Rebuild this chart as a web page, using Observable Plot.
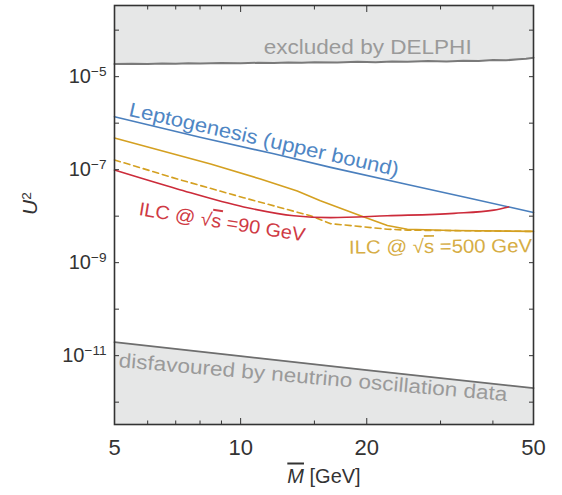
<!DOCTYPE html>
<html><head><meta charset="utf-8">
<script src="https://cdn.jsdelivr.net/npm/d3@7"></script>
<script src="https://cdn.jsdelivr.net/npm/@observablehq/plot@0.6"></script>
<style>
body{margin:0;background:#fff;}
</style>
</head><body><div id="chart"></div>
<script>
// ---- data (M in GeV, U^2) ----
const delphiM = [5, 5.5, 6, 6.5, 7, 7.5, 8, 9, 10, 11, 12, 13, 14, 15, 17, 19, 21, 23, 25, 28, 31, 34, 37, 40, 43, 46, 48, 50];
const delphiU = [1.87e-5, 1.90e-5, 1.86e-5, 1.91e-5, 1.89e-5, 1.94e-5, 1.92e-5, 1.96e-5, 1.94e-5, 1.99e-5, 1.97e-5, 2.02e-5, 1.99e-5, 2.04e-5, 2.02e-5, 2.08e-5, 2.05e-5, 2.12e-5, 2.09e-5, 2.16e-5, 2.13e-5, 2.21e-5, 2.18e-5, 2.27e-5, 2.25e-5, 2.36e-5, 2.42e-5, 2.55e-5];

const nuM = [5, 10, 20, 50];
const nuU = [1.95e-11, 9.8e-12, 4.9e-12, 2.0e-12];

const leptoM = [5, 8, 12, 16.4, 25, 35, 44, 50];
const leptoU = [1.38e-6, 5.0e-7, 2.19e-7, 1.12e-7, 4.8e-8, 2.45e-8, 1.55e-8, 1.2e-8];

const ilc500M = [5, 8.48, 11.15, 13.65, 15.5, 19.33, 22.4, 25, 32, 50];
const ilc500U = [4.8e-7, 1.32e-7, 6.3e-8, 3.47e-8, 2.14e-8, 1.02e-8, 6.3e-9, 5.25e-9, 4.9e-9, 4.7e-9];

const ilc500dM = [5, 7.06, 10.16, 14.68, 16.4, 22.4, 25, 50];
const ilc500dU = [1.62e-7, 6.3e-8, 2.5e-8, 1.02e-8, 6.9e-9, 5.25e-9, 5.0e-9, 4.7e-9];

const ilc90M = [5, 7.06, 10.17, 13.4, 16.4, 22.4, 32.3, 40.2, 43.6];
const ilc90U = [9.8e-8, 3.85e-8, 1.58e-8, 1.02e-8, 9.3e-9, 1.02e-8, 1.15e-8, 1.35e-8, 1.58e-8];

const xTicks = [5, 6, 7, 8, 9, 10, 15, 20, 30, 40, 50];
const xMajor = [5, 10, 20, 50];
const yTicks = [1e-12, 1e-11, 1e-10, 1e-9, 1e-8, 1e-7, 1e-6, 1e-5, 1e-4];
const yLabelTicks = [1e-11, 1e-9, 1e-7, 1e-5];

const labelText = ["excluded by DELPHI", "Leptogenesis (upper bound)", "ILC @ √s =90 GeV", "ILC @ √s =500 GeV", "disfavoured by neutrino oscillation data"];
const labelM = [20.1, 11.37, 9.03, 30.0, 14.89];
const labelU = [4.2e-5, 4.4e-7, 7.4e-9, 2.2e-9, 3.37e-12];

const xTitle = "M [GeV]";
const yTitle = "U2";

// ---- styles ----
const labelStyle = [
  {fill: "#9a9a9a", rotate: 0, size: 20, len: 208},
  {fill: "#4f86c4", rotate: 12.7, size: 20, len: 276},
  {fill: "#cf3a44", rotate: 9, size: 19, len: 168},
  {fill: "#d6ad45", rotate: -0.5, size: 19, len: 183},
  {fill: "#9a9a9a", rotate: 5, size: 20, len: 390}
];
const yDomain = [3.31e-13, 3.39e-4];
const xDomain = [5, 50];

const zip = (M, U) => M.map((m, i) => ({M: m, U: U[i]}));
const delphi = zip(delphiM, delphiU);
const nu = zip(nuM, nuU);
const lepto = zip(leptoM, leptoU);
const ilc500 = zip(ilc500M, ilc500U);
const ilc500d = zip(ilc500dM, ilc500dU);
const ilc90 = zip(ilc90M, ilc90U);

const labelMarks = labelText.map((t, i) => Plot.text([{t, M: labelM[i], U: labelU[i]}], {
  x: "M", y: "U", text: "t", fill: labelStyle[i].fill, rotate: labelStyle[i].rotate,
  fontSize: labelStyle[i].size
}));

const plot = Plot.plot({
  width: 562, height: 495,
  marginLeft: 114, marginRight: 29, marginTop: 5, marginBottom: 71,
  style: {fontFamily: "'Liberation Sans', Arial, Helvetica, sans-serif", fontSize: "20px", background: "#fff", color: "#333"},
  x: {type: "log", domain: xDomain, axis: null},
  y: {type: "log", domain: yDomain, axis: null},
  marks: [
    Plot.areaY(delphi, {x: "M", y1: "U", y2: yDomain[1], fill: "#e6e7e7"}),
    Plot.areaY(nu, {x: "M", y1: yDomain[0], y2: "U", fill: "#e6e7e7"}),
    Plot.line(delphi, {x: "M", y: "U", stroke: "#7a7a7a", strokeWidth: 2}),
    Plot.line(nu, {x: "M", y: "U", stroke: "#6e6e6e", strokeWidth: 1.8}),
    Plot.line(lepto, {x: "M", y: "U", stroke: "#4a7fbd", strokeWidth: 1.6}),
    Plot.line(ilc500d, {x: "M", y: "U", stroke: "#d4a021", strokeWidth: 1.6, strokeDasharray: "6,4"}),
    Plot.line(ilc500, {x: "M", y: "U", stroke: "#d4a021", strokeWidth: 1.6}),
    Plot.line(ilc90, {x: "M", y: "U", stroke: "#cc2b3a", strokeWidth: 1.6, curve: "monotone-x"}),
    ...labelMarks,
    Plot.frame({stroke: "#333", strokeWidth: 1.6}),
    // inward ticks
    Plot.axisX(xMajor, {anchor: "bottom", tickSize: -6, tickFormat: () => "", label: null, stroke: "#333"}),
    Plot.axisX(xTicks.filter(d => !xMajor.includes(d)), {anchor: "bottom", tickSize: -3.5, tickFormat: () => "", label: null, stroke: "#333"}),
    Plot.axisX(xMajor, {anchor: "top", tickSize: -6, tickFormat: () => "", label: null, stroke: "#333"}),
    Plot.axisX(xTicks.filter(d => !xMajor.includes(d)), {anchor: "top", tickSize: -3.5, tickFormat: () => "", label: null, stroke: "#333"}),
    Plot.axisY(yTicks, {anchor: "left", tickSize: -5, tickFormat: () => "", label: null, stroke: "#333"}),
    Plot.axisY(yTicks, {anchor: "right", tickSize: -5, tickFormat: () => "", label: null, stroke: "#333"}),
    // tick labels
    Plot.axisX(xMajor, {anchor: "bottom", tickSize: 0, tickPadding: 15, tickFormat: d => String(d), label: null, fontSize: 22, fill: "#333"}),
    Plot.axisY(yLabelTicks, {anchor: "left", tickSize: 0, tickPadding: 8, tickFormat: d => "10^" + "\u2212" + Math.round(-Math.log10(d)), label: null, fontSize: 20, fill: "#333"}),
    Plot.text([xTitle], {frameAnchor: "bottom", dy: 58, fontSize: 20, fill: "#333"}),
    Plot.text([yTitle], {frameAnchor: "left", dx: -84, rotate: -90, fontSize: 21, fill: "#333"})
  ]
});

document.getElementById("chart").appendChild(plot);
const svg = d3.select(plot);

svg.selectAll("text").each(function() {
  const t = this.textContent;
  const sel = d3.select(this);
  if (/^10\^/.test(t)) {
    const e = t.split("^")[1];
    sel.text("10");
    sel.append("tspan").attr("dy", "-0.5em").attr("font-size", "0.68em").text(e);
    return;
  }
  const i = labelText.indexOf(t);
  if (i >= 0) {
    if (t.includes("√s")) {
      const [a, b] = t.split("√s");
      sel.text(a + "√");
      sel.append("tspan").style("text-decoration", "overline").text("s");
      sel.append("tspan").text(b);
    }
    sel.attr("textLength", labelStyle[i].len).attr("lengthAdjust", "spacingAndGlyphs");
    return;
  }
  if (t === xTitle) {
    sel.text("");
    sel.append("tspan").style("font-style", "italic").style("text-decoration", "overline").text("M");
    sel.append("tspan").text(" [GeV]");
    return;
  }
  if (t === yTitle) {
    sel.text("");
    sel.append("tspan").style("font-style", "italic").text("U");
    sel.append("tspan").attr("dy", "-0.45em").attr("font-size", "0.65em").text("2");
  }
});
</script>
</body></html>
